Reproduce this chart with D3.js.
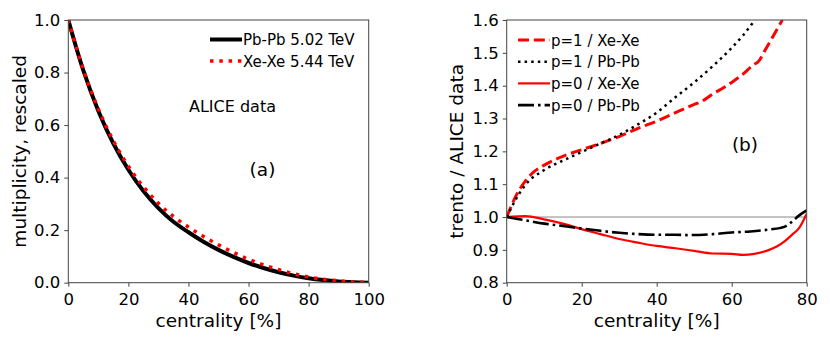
<!DOCTYPE html>
<html>
<head>
<meta charset="utf-8">
<script src="https://cdn.jsdelivr.net/npm/d3@7"></script>
<style>
  body { margin: 0; background: #fff; }
  svg text { font-family: "DejaVu Sans", sans-serif; fill: #000; }
</style>
</head>
<body>
<svg id="fig" width="830" height="345"></svg>
<script>
// ---- panel (a): rescaled multiplicity vs centrality ----
const multCentrality = [0, 5, 10, 15, 20, 25, 30, 35, 40, 45, 50, 55, 60, 65, 70, 75, 80, 85, 90, 95, 100];
const multPbPb = [1.0, 0.808, 0.654, 0.53, 0.43, 0.349, 0.284, 0.232, 0.192, 0.156, 0.125, 0.098, 0.075, 0.056, 0.04, 0.027, 0.017, 0.01, 0.005, 0.002, 0.0];
const multXeXe = [1.0, 0.811, 0.661, 0.54, 0.443, 0.365, 0.302, 0.252, 0.212, 0.176, 0.144, 0.115, 0.089, 0.068, 0.05, 0.034, 0.022, 0.013, 0.007, 0.003, 0.001];
const legendA = ["Pb-Pb 5.02 TeV", "Xe-Xe 5.44 TeV"];

// ---- panel (b): trento / ALICE data ----
const p1XeCent = [0, 2.5, 5, 7, 10, 15, 20, 25, 30, 35, 40, 45, 50, 52, 55, 58, 60, 63, 66, 67, 69, 71, 73.5];
const p1XeRatio = [1.0, 1.065, 1.11, 1.135, 1.158, 1.185, 1.205, 1.224, 1.245, 1.27, 1.292, 1.318, 1.343, 1.352, 1.375, 1.395, 1.41, 1.435, 1.465, 1.472, 1.51, 1.55, 1.6];
const p1PbCent = [0, 2.5, 5, 10, 15, 20, 25, 30, 35, 40, 45, 50, 55, 60, 63, 66.2];
const p1PbRatio = [1.0, 1.055, 1.098, 1.143, 1.172, 1.198, 1.224, 1.25, 1.282, 1.318, 1.365, 1.41, 1.46, 1.515, 1.553, 1.6];
const p0XeCent = [0, 5, 10, 15, 20, 25, 30, 35, 40, 45, 50, 55, 60, 63, 66, 70, 72, 74, 76, 78, 80];
const p0XeRatio = [1.0, 1.003, 0.993, 0.98, 0.963, 0.948, 0.933, 0.922, 0.912, 0.905, 0.897, 0.889, 0.888, 0.885, 0.888, 0.9, 0.91, 0.925, 0.945, 0.967, 1.01];
const p0PbCent = [0, 5, 10, 15, 20, 25, 30, 35, 40, 45, 48, 55, 60, 65, 70, 74, 76, 78, 80];
const p0PbRatio = [1.0, 0.99, 0.98, 0.973, 0.965, 0.958, 0.952, 0.948, 0.946, 0.946, 0.945, 0.948, 0.953, 0.956, 0.962, 0.97, 0.985, 1.005, 1.02];
const legendB = ["p=1 / Xe-Xe", "p=1 / Pb-Pb", "p=0 / Xe-Xe", "p=0 / Pb-Pb"];

const svg = d3.select("#fig");
const frameColor = "#444";

function drawPanel(opts) {
    const g = svg.append("g");
    const x = d3.scaleLinear().domain(opts.xDomain).range([opts.left, opts.right]);
    const y = d3.scaleLinear().domain(opts.yDomain).range([opts.bottom, opts.top]);

    const clipId = "clip-" + opts.id;
    svg.append("clipPath").attr("id", clipId)
        .append("rect")
        .attr("x", opts.left).attr("y", opts.top)
        .attr("width", opts.right - opts.left).attr("height", opts.bottom - opts.top);

    // axes
    const xAxis = g.append("g")
        .attr("transform", `translate(0,${opts.bottom})`)
        .call(d3.axisBottom(x).tickValues(opts.xTicks).tickSize(4).tickPadding(4).tickFormat(d3.format("d")));
    const yAxis = g.append("g")
        .attr("transform", `translate(${opts.left},0)`)
        .call(d3.axisLeft(y).tickValues(opts.yTicks).tickSize(4).tickPadding(4).tickFormat(d3.format(".1f")));
    [xAxis, yAxis].forEach(a => {
        a.select(".domain").remove();
        a.selectAll(".tick line").attr("stroke", frameColor);
        a.selectAll(".tick text").style("font-size", "16.5px").attr("fill", "#000");
    });
    xAxis.selectAll(".tick text").attr("dy", "0.84em");

    const plot = g.append("g").attr("clip-path", `url(#${clipId})`);
    const line = d3.line().x(d => x(d[0])).y(d => y(d[1])).curve(opts.curve);

    if (opts.refLine !== undefined) {
        plot.append("line")
            .attr("x1", opts.left).attr("x2", opts.right)
            .attr("y1", y(opts.refLine)).attr("y2", y(opts.refLine))
            .attr("stroke", "#888").attr("stroke-width", 1);
    }

    opts.series.forEach(s => {
        plot.append("path")
            .datum(d3.zip(s.xs, s.ys))
            .attr("d", line)
            .attr("fill", "none")
            .attr("stroke", s.color)
            .attr("stroke-width", s.width)
            .attr("stroke-dasharray", s.dash || null);
    });

    // frame
    g.append("rect")
        .attr("x", opts.left).attr("y", opts.top)
        .attr("width", opts.right - opts.left).attr("height", opts.bottom - opts.top)
        .attr("fill", "none").attr("stroke", frameColor).attr("stroke-width", 1);

    // axis labels
    g.append("text")
        .attr("x", (opts.left + opts.right) / 2).attr("y", 327)
        .attr("text-anchor", "middle").style("font-size", "18.5px")
        .text("centrality [%]");
    g.append("text")
        .attr("transform", `translate(${opts.yLabelX},${(opts.top + opts.bottom) / 2}) rotate(-90)`)
        .attr("text-anchor", "middle").style("font-size", "18.5px")
        .text(opts.yLabel);

    // legend
    const leg = g.append("g");
    opts.series.forEach((s, i) => {
        const ly = opts.legendY + i * opts.legendStep;
        leg.append("line")
            .attr("x1", opts.legendX).attr("x2", opts.legendX + 32)
            .attr("y1", ly).attr("y2", ly)
            .attr("stroke", s.color).attr("stroke-width", s.width)
            .attr("stroke-dasharray", s.dash || null);
        leg.append("text")
            .attr("x", opts.legendX + 33).attr("y", ly + 5.5)
            .style("font-size", "15px")
            .text(s.label);
    });

    opts.notes.forEach(n => {
        g.append("text")
            .attr("x", n.x).attr("y", n.y)
            .attr("text-anchor", "middle").style("font-size", n.size)
            .text(n.text);
    });
}

drawPanel({
    id: "a",
    xDomain: [0, 100], yDomain: [0, 1],
    left: 68.3, right: 368.7, top: 20, bottom: 282.7,
    xTicks: [0, 20, 40, 60, 80, 100],
    yTicks: [0, 0.2, 0.4, 0.6, 0.8, 1.0],
    curve: d3.curveCatmullRom,
    yLabel: "multiplicity, rescaled", yLabelX: 26,
    legendX: 210, legendY: 39.5, legendStep: 21.5,
    series: [
        { xs: multCentrality, ys: multPbPb, color: "#000", width: 4, label: legendA[0] },
        { xs: multCentrality, ys: multXeXe, color: "#ff0000", width: 3.5, dash: "3.5,5.8", label: legendA[1] }
    ],
    notes: [
        { text: "ALICE data", x: 232.5, y: 111.5, size: "16px" },
        { text: "(a)", x: 262.5, y: 176, size: "18.5px" }
    ]
});

drawPanel({
    id: "b",
    xDomain: [0, 80], yDomain: [0.8, 1.6],
    left: 506.7, right: 806.7, top: 20, bottom: 282.7,
    xTicks: [0, 20, 40, 60, 80],
    yTicks: d3.range(8, 17).map(v => v / 10),
    curve: d3.curveMonotoneX,
    yLabel: "trento / ALICE data", yLabelX: 463,
    legendX: 518, legendY: 40, legendStep: 21.7,
    refLine: 1.0,
    series: [
        { xs: p1XeCent, ys: p1XeRatio, color: "#ff0000", width: 3, dash: "11,4.8", label: legendB[0] },
        { xs: p1PbCent, ys: p1PbRatio, color: "#000", width: 2.5, dash: "2.5,4.1", label: legendB[1] },
        { xs: p0XeCent, ys: p0XeRatio, color: "#ff0000", width: 2.2, label: legendB[2] },
        { xs: p0PbCent, ys: p0PbRatio, color: "#000", width: 2.6, dash: "16,4,2.6,4", label: legendB[3] }
    ],
    notes: [
        { text: "(b)", x: 745, y: 151, size: "18.5px" }
    ]
});
</script>
</body>
</html>
